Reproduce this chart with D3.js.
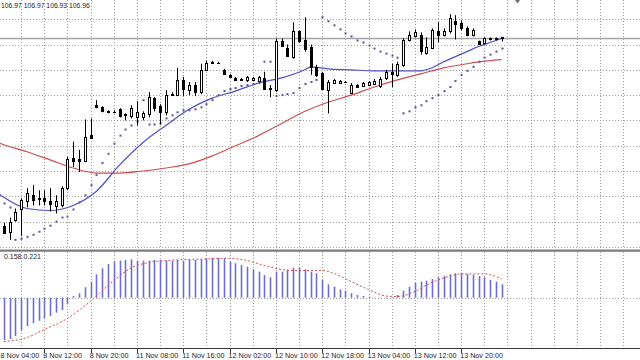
<!DOCTYPE html>
<html><head><meta charset="utf-8">
<script src="https://cdn.jsdelivr.net/npm/d3@7/dist/d3.min.js"></script>
<style>html,body{margin:0;padding:0;background:#fff;overflow:hidden}svg{display:block}text{font-family:"Liberation Sans",Arial,sans-serif;fill:#1e1e1e}</style>
</head><body><svg id="c" width="640" height="360"></svg>
<script>
// ---- data (H1 candles) ----
const open=[105.11,105.05,105.17,105.27,105.35,105.41,105.38,105.38,105.35,105.30,
105.31,105.48,105.78,105.77,105.75,106.01,106.30,106.28,106.24,106.23,
106.26,106.21,106.19,106.18,106.18,106.21,106.37,106.29,106.23,106.40,
106.40,106.55,106.45,106.50,106.43,106.65,106.73,106.72,106.65,106.60,
106.57,106.56,106.55,106.55,106.54,106.57,106.47,106.45,106.93,106.87,
106.78,107.03,106.94,106.88,106.68,106.62,106.45,106.52,106.52,106.53,
106.42,106.50,106.49,106.50,106.51,106.49,106.57,106.63,106.60,106.70,
106.94,106.98,106.99,106.82,106.87,107.03,106.99,107.03,107.13,107.11,
107.06,106.99,106.93,106.92,106.96,106.96,106.97];
const high=[105.14,105.19,105.28,105.38,105.48,105.51,105.46,105.46,105.48,105.41,
105.50,105.79,105.94,105.86,106.16,106.17,106.35,106.29,106.25,106.25,
106.27,106.22,106.30,106.34,106.24,106.43,106.38,106.31,106.45,106.43,
106.67,106.58,106.53,106.53,106.71,106.74,106.74,106.73,106.66,106.61,
106.58,106.57,106.59,106.58,106.59,106.63,106.50,106.96,106.96,106.90,
107.12,107.04,107.17,106.90,106.70,106.63,106.55,106.56,106.55,106.54,
106.52,106.51,106.53,106.54,106.56,106.58,106.65,106.71,106.73,106.96,
107.03,107.05,107.02,106.97,107.06,107.12,107.06,107.20,107.19,107.14,
107.08,107.06,106.94,106.97,106.97,106.97,106.97];
const low=[105.03,104.97,105.15,105.01,105.29,105.31,105.31,105.31,105.25,105.23,
105.29,105.46,105.69,105.64,105.74,105.97,106.27,106.23,106.22,106.22,
106.18,106.15,106.17,106.10,106.15,106.18,106.24,106.11,106.20,106.39,
106.39,106.39,106.40,106.39,106.41,106.64,106.71,106.71,106.60,106.58,
106.54,106.54,106.53,106.54,106.53,106.45,106.38,106.43,106.88,106.78,
106.76,106.92,106.83,106.60,106.58,106.45,106.22,106.51,106.51,106.52,
106.41,106.47,106.48,106.49,106.50,106.47,106.55,106.48,106.58,106.68,
106.93,106.97,106.80,106.80,106.86,106.92,106.98,107.01,106.95,107.04,
106.98,106.98,106.90,106.91,106.94,106.94,106.93];
const close=[105.04,105.15,105.25,105.36,105.43,105.36,105.37,105.35,105.32,105.35,
105.48,105.77,105.75,105.75,105.99,105.98,106.28,106.24,106.23,106.23,
106.19,106.20,106.27,106.23,106.22,106.38,106.27,106.23,106.40,106.41,
106.55,106.46,106.50,106.43,106.65,106.72,106.72,106.72,106.61,106.58,
106.55,106.55,106.58,106.57,106.58,106.46,106.46,106.93,106.89,106.79,
107.03,106.93,106.86,106.68,106.60,106.46,106.53,106.55,106.54,106.53,
106.50,106.48,106.52,106.53,106.54,106.56,106.63,106.61,106.71,106.94,
106.99,107.02,106.84,106.88,107.04,106.99,107.03,107.16,107.10,107.06,
106.99,107.04,106.91,106.96,106.95,106.95,106.96];
const sar=[105.33,105.29,104.97,104.98,105.00,105.02,105.05,105.08,105.11,105.15,
105.19,105.20,105.27,105.34,105.41,105.51,105.61,105.73,105.82,105.92,
106.00,106.06,106.10,106.14,106.35,106.11,106.11,106.12,106.17,106.20,
106.23,106.25,106.25,106.26,106.28,106.31,106.35,106.40,106.44,106.46,
106.47,106.49,106.50,106.51,106.52,106.73,106.73,106.39,106.40,106.41,
106.42,106.47,106.51,106.53,106.55,107.17,107.13,107.09,107.05,107.01,
106.98,106.94,106.92,106.89,106.86,106.83,106.81,106.79,106.77,106.22,
106.24,106.28,106.30,106.34,106.37,106.40,106.44,106.48,106.54,106.60,
106.64,106.68,106.73,106.77,106.80,106.83,106.86];
const maFastIdx=[-1,0,4,8,12,16,20,24,28,32,36,40,44,48,52,53,56,60,64,68,72,74,76,78,80,82,84,86];
const maFastVal=[105.43,105.39,105.28,105.26,105.31,105.45,105.71,105.93,106.10,106.26,106.37,106.44,106.52,106.57,106.65,106.68,106.66,106.65,106.64,106.64,106.64,106.67,106.73,106.78,106.83,106.88,106.92,106.96];
const maSlowIdx=[-1,0,4,8,12,16,20,24,28,32,36,40,44,48,52,56,60,64,68,72,76,80,84,86];
const maSlowVal=[105.93,105.91,105.84,105.76,105.68,105.63,105.63,105.65,105.68,105.72,105.80,105.90,106.00,106.12,106.24,106.33,106.40,106.48,106.55,106.61,106.67,106.71,106.74,106.75];
const macdHist=[-0.499,-0.487,-0.452,-0.381,-0.334,-0.302,-0.271,-0.243,-0.216,-0.177,
-0.145,-0.078,0.020,0.052,0.123,0.189,0.276,0.347,0.398,0.425,
0.437,0.445,0.453,0.437,0.437,0.437,0.445,0.445,0.437,0.437,
0.445,0.437,0.445,0.445,0.453,0.465,0.472,0.472,0.465,0.425,
0.406,0.386,0.366,0.335,0.307,0.268,0.241,0.307,0.307,0.327,
0.354,0.354,0.335,0.307,0.288,0.209,0.158,0.130,0.099,0.083,
0.052,0.032,0.020,0.012,0.005,-0.004,-0.007,-0.001,0.032,0.083,
0.130,0.177,0.189,0.201,0.221,0.241,0.256,0.276,0.288,0.295,
0.280,0.268,0.256,0.241,0.209,0.189,0.158];
const signalIdx=[0,4,7,11,15,19,22,25,28,35,39,42,45,48,51,55,57,60,63,66,68,71,73,76,79,83,86];
const signalVal=[-0.517,-0.470,-0.375,-0.245,-0.039,0.203,0.350,0.415,0.437,0.457,0.465,0.439,0.380,0.333,0.319,0.321,0.286,0.191,0.097,0.020,0.014,0.073,0.150,0.232,0.280,0.280,0.221];
const tickIdx=[-1,7,15,23,31,39,47,55,63,71,79];
const tickLabels=["8 Nov 04:00","8 Nov 12:00","8 Nov 20:00","11 Nov 08:00","11 Nov 16:00","12 Nov 02:00","12 Nov 10:00","12 Nov 18:00","13 Nov 04:00","13 Nov 12:00","13 Nov 20:00"];
const gridPrices=[107.15,106.90,106.65,106.40,106.15,105.90,105.65,105.40,105.15,104.90];
const headerValues=[106.97,106.97,106.93,106.96];
const macdLabelValues=[0.158,0.221];

// ---- layout ----
const svg=d3.select("#c");
const x=d3.scaleLinear().domain([0,86]).range([3.8,501.7]);
const y=d3.scaleLinear().domain([104.84,107.34]).range([253,0]);
const ym=d3.scaleLinear().domain([-0.5,0.5]).range([340.1,255.3]);
const mainBottom=249, subTop=252, subBottom=348;

const defs=svg.append("defs");
defs.append("clipPath").attr("id","cm").append("rect").attr("x",0).attr("y",0).attr("width",640).attr("height",mainBottom);
defs.append("clipPath").attr("id","cs").append("rect").attr("x",0).attr("y",subTop).attr("width",640).attr("height",subBottom-subTop);

const gridIdx=d3.range(-1,112,4);
const gridColor="#9c9c9c";
// main grid
const gm=svg.append("g").attr("clip-path","url(#cm)");
gm.selectAll("line.v").data(gridIdx).join("line")
  .attr("x1",d=>Math.round(x(d))+0.5).attr("x2",d=>Math.round(x(d))+0.5)
  .attr("y1",0).attr("y2",mainBottom).attr("stroke",gridColor).attr("stroke-dasharray","1,2");
gm.selectAll("line.h").data(gridPrices).join("line")
  .attr("x1",0).attr("x2",640).attr("y1",d=>Math.round(y(d))+0.5).attr("y2",d=>Math.round(y(d))+0.5)
  .attr("stroke",gridColor).attr("stroke-dasharray","1,2");
// bid line
const last=close[close.length-1];
gm.append("line").attr("x1",0).attr("x2",640).attr("y1",y(last)).attr("y2",y(last))
  .attr("stroke","#a4a4a4").attr("stroke-width",1.5);

// moving averages
const lineGen=d3.line().x(d=>x(d[0])).y(d=>y(d[1])).curve(d3.curveMonotoneX);
gm.append("path").datum(maSlowIdx.map((d,i)=>[d,maSlowVal[i]])).attr("d",lineGen)
  .attr("fill","none").attr("stroke","#cc4f4f").attr("stroke-width",1.2);
gm.append("path").datum(maFastIdx.map((d,i)=>[d,maFastVal[i]])).attr("d",lineGen)
  .attr("fill","none").attr("stroke","#4e4ec4").attr("stroke-width",1.2);

// parabolic SAR
gm.selectAll("rect.sar").data(sar).join("rect")
  .attr("x",(d,i)=>Math.round(x(i))-0.5).attr("y",d=>y(d)-1).attr("width",2).attr("height",2)
  .attr("fill","#55559f");

// candles
const candles=gm.selectAll("g.cd").data(d3.range(open.length)).join("g");
candles.append("line")
  .attr("x1",i=>Math.round(x(i))+0.5).attr("x2",i=>Math.round(x(i))+0.5)
  .attr("y1",i=>y(high[i])).attr("y2",i=>y(low[i])).attr("stroke","#000").attr("stroke-width",1);
candles.each(function(i){
  const g=d3.select(this), px=Math.round(x(i));
  const top=Math.round(y(Math.max(open[i],close[i]))), bot=Math.round(y(Math.min(open[i],close[i])));
  if(close[i]>open[i]){
    g.append("rect").attr("x",px-0.5).attr("y",top+0.5).attr("width",2).attr("height",Math.max(1,bot-top))
     .attr("fill","#fff").attr("stroke","#000").attr("stroke-width",1);
  } else if(close[i]<open[i]){
    g.append("rect").attr("x",px-1).attr("y",top).attr("width",3).attr("height",Math.max(1,bot-top)+1).attr("fill","#000");
  } else {
    g.append("line").attr("x1",px-1).attr("x2",px+2).attr("y1",top+0.5).attr("y2",top+0.5).attr("stroke","#000");
  }
});

// shift marker
svg.append("path").attr("d",`M${x(88.3)},0 L${x(88.3)+5},0 L${x(88.3)+2.5},3.5 Z`).attr("fill","#6e6e6e");

// header
svg.append("text").attr("x",1).attr("y",7.5).attr("font-size",6.8)
  .text(headerValues.map(v=>v.toFixed(2)).join(" "));

// separator
svg.append("line").attr("x1",0).attr("x2",640).attr("y1",250).attr("y2",250).attr("stroke","#808080");
svg.append("line").attr("x1",0).attr("x2",640).attr("y1",251).attr("y2",251).attr("stroke","#3a3a3a");

// MACD panel
const gs=svg.append("g").attr("clip-path","url(#cs)");
gs.selectAll("line.v").data(gridIdx).join("line")
  .attr("x1",d=>Math.round(x(d))+0.5).attr("x2",d=>Math.round(x(d))+0.5)
  .attr("y1",subTop).attr("y2",subBottom).attr("stroke",gridColor).attr("stroke-dasharray","1,2");
gs.append("line").attr("x1",0).attr("x2",640).attr("y1",Math.round(ym(0))+0.5).attr("y2",Math.round(ym(0))+0.5)
  .attr("stroke",gridColor).attr("stroke-dasharray","1,2");
gs.selectAll("line.bar").data(macdHist).join("line")
  .attr("x1",(d,i)=>Math.round(x(i))+0.5).attr("x2",(d,i)=>Math.round(x(i))+0.5)
  .attr("y1",ym(0)).attr("y2",d=>ym(d)).attr("stroke","#6d6dd2").attr("stroke-width",1.6);
const sigGen=d3.line().x(d=>x(d[0])).y(d=>ym(d[1])).curve(d3.curveMonotoneX);
gs.append("path").datum(signalIdx.map((d,i)=>[d,signalVal[i]])).attr("d",sigGen)
  .attr("fill","none").attr("stroke","#d05050").attr("stroke-width",1).attr("stroke-dasharray","2,2");
svg.append("text").attr("x",4).attr("y",258.5).attr("font-size",7)
  .text(macdLabelValues.map(v=>v.toFixed(3)).join(" "));

// time axis
svg.append("line").attr("x1",0).attr("x2",640).attr("y1",348.5).attr("y2",348.5).attr("stroke","#3a3a3a");
const ta=svg.append("g");
ta.selectAll("line").data(tickIdx).join("line")
  .attr("x1",d=>Math.round(x(d))+0.5).attr("x2",d=>Math.round(x(d))+0.5)
  .attr("y1",349).attr("y2",353).attr("stroke","#3a3a3a");
ta.selectAll("text").data(tickIdx).join("text")
  .attr("x",d=>Math.max(0.5,x(d)-1)).attr("y",357.5).attr("font-size",7.2)
  .text((d,i)=>tickLabels[i]);
</script></body></html>
